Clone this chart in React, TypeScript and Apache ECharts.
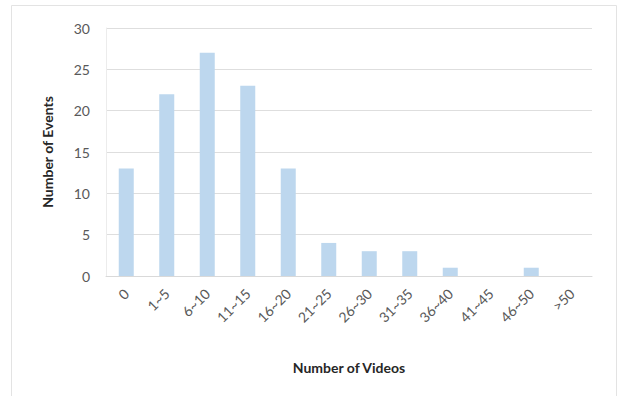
import React, { useEffect, useRef } from "react";
import * as echarts from "echarts";

const categories = ["0", "1~5", "6~10", "11~15", "16~20", "21~25", "26~30", "31~35", "36~40", "41~45", "46~50", ">50"];
const events = [13, 22, 27, 23, 13, 4, 3, 3, 1, 0, 1, 0];
const yTicks = { min: 0, max: 30, interval: 5 };

export default function App() {
  const ref = useRef<HTMLDivElement>(null);
  useEffect(() => {
    if (!ref.current) return;
    const chart = echarts.init(ref.current, null, { renderer: "svg" });
    const font = "Lato, 'Open Sans', sans-serif";
    chart.setOption({
      animation: false,
      backgroundColor: "#ffffff",
      textStyle: { fontFamily: font },
      graphic: [
        {
          type: "rect",
          shape: { x: 11.5, y: 5.5, width: 605, height: 400 },
          style: { fill: "none", stroke: "#e3e3e3", lineWidth: 1 },
          silent: true,
        },
      ],
      grid: { left: 106, right: 33, top: 28, bottom: 120 },
      xAxis: {
        type: "category",
        data: categories,
        name: "Number of Videos",
        nameLocation: "middle",
        nameGap: 84,
        nameTextStyle: { fontFamily: font, fontSize: 14, fontWeight: "bold", color: "#262626" },
        axisLine: { show: true, lineStyle: { color: "#d9d9d9" } },
        axisTick: { show: false },
        axisLabel: { rotate: 45, margin: 15, fontSize: 14, color: "#595959", fontFamily: font },
      },
      yAxis: {
        type: "value",
        min: yTicks.min,
        max: yTicks.max,
        interval: yTicks.interval,
        name: "Number of Events",
        nameLocation: "middle",
        nameGap: 52,
        nameTextStyle: { fontFamily: font, fontSize: 14, fontWeight: "bold", color: "#262626" },
        axisLine: { show: true, lineStyle: { color: "#ececec" } },
        axisTick: { show: false },
        axisLabel: { margin: 16, fontSize: 14, color: "#595959", fontFamily: font },
        splitLine: { lineStyle: { color: "#dedede" } },
      },
      series: [
        {
          type: "bar",
          data: events,
          barWidth: 15,
          itemStyle: { color: "#bdd7ee" },
        },
      ],
    });
    return () => chart.dispose();
  }, []);
  return <div ref={ref} style={{ position: "fixed", left: 0, top: 0, width: 625, height: 396 }} />;
}
